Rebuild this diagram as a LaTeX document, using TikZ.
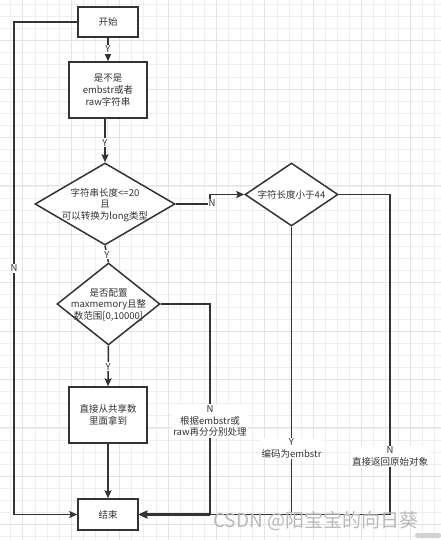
\documentclass[tikz,border=0pt]{standalone}
\usepackage{fontspec}
\setmainfont{Noto Sans CJK SC}
\usetikzlibrary{shapes.geometric,arrows.meta}
\definecolor{ln}{HTML}{333333}
\definecolor{gmin}{HTML}{EFEFEF}
\definecolor{gmaj}{HTML}{E3E3E3}
\begin{document}
\begin{tikzpicture}[x=1pt,y=-1pt,
  every node/.style={font=\fontsize{9.5}{11.8}\selectfont, text=ln},
  box/.style={draw=ln, line width=1.5pt, fill=white, rectangle, inner sep=0pt, align=center},
  dia/.style={draw=ln, line width=1.5pt, fill=white, diamond, inner sep=0pt},
  conn/.style={draw=ln, line width=1.5pt},
  arr/.style={conn, -{Stealth[length=8pt,width=7pt,inset=1.5pt]}},
  lbl/.style={fill=white, inner sep=1pt, align=center},
  gridmin/.style={draw=gmin, line width=0.8pt},
  gridmaj/.style={draw=gmaj, line width=0.9pt}
]
\useasboundingbox (0,0) rectangle (441,540);
\fill[white] (0,0) rectangle (441,540);
% grid
\foreach \i in {0,...,35} \draw[gridmin] ({10.7+12.1*\i},0) -- ({10.7+12.1*\i},540);
\foreach \j in {0,...,44} \draw[gridmin] (0,{4.4+12.1*\j}) -- (441,{4.4+12.1*\j});
\foreach \i in {0,...,8} \draw[gridmaj] ({22.9+48.4*\i},0) -- ({22.9+48.4*\i},540);
\foreach \j in {0,...,10} \draw[gridmaj] (0,{40.7+48.4*\j}) -- (441,{40.7+48.4*\j});

% nodes
\node[box, minimum width=60pt, minimum height=30pt] (start) at (108,22) {开始};
\node[box, minimum width=78pt, minimum height=56pt] (box2) at (108,90) {是不是\\embstr或者\\raw字符串};
\node[dia, minimum width=140pt, minimum height=82pt] (d1) at (105,204) {};
\node[align=center] (t1) at (105,205) {字符串长度<=20\\且\\可以转换为long类型};
\node[dia, minimum width=93pt, minimum height=63pt] (d2) at (291.5,194.5) {};
\node (t2) at (291.5,194.5) {字符长度小于44};
\node[dia, minimum width=103pt, minimum height=82pt] (d3) at (108.5,304) {};
\node[align=center] (t3) at (108.5,305) {是否配置\\maxmemory且整\\数范围[0,10000]};
\node[box, minimum width=78pt, minimum height=56pt] (box3) at (108,415) {直接从共享数\\里面拿到};
\node[box, minimum width=60pt, minimum height=31pt] (end) at (108,514.5) {结束};

% bend points
\coordinate (c0) at (14,22);
\coordinate (c1) at (210,204);
\coordinate (c2) at (390,194.5);
\coordinate (c3) at (210,304);

% connectors
\draw[arr] (start) -- node[lbl]{Y} (box2);
\draw[arr] (box2.south -| d1.north) -- node[lbl, pos=0.55]{Y} (d1.north);
\draw[conn] (d1.south) -- node[lbl, pos=0.55]{Y} (d3.north);
\draw[arr] (d1.east) -- (c1) |- (d2.west);
\node[lbl] (n1) at (212,203) {N};
\draw[arr] (d3.south) -- node[lbl, pos=0.52]{Y} (box3.north);
\draw[arr] (box3.south) -- (end.north);
\draw[arr] (start.west) -- (c0) -- node[lbl, pos=0.5]{N} (c0 |- end.west) -- (end.west);
\draw[arr] (d3.east) -- (c3) -- node[lbl, pos=0.556]{N\\根据embstr或\\raw再分分别处理} (c3 |- end.east) -- (end.east);
\draw[arr] (d2.south) -- node[lbl, pos=0.771]{Y\\编码为embstr} (d2.south |- end.east) -- (end.east);
\draw[arr] (d2.east) -- (c2) -- node[lbl, pos=0.819]{N\\直接返回原始对象} (c2 |- end.east) -- (end.east);
\draw[conn, line width=2.6pt, -{Stealth[length=9pt,width=8pt,inset=1.5pt]}] (c3 |- end.east) -- (end.east);

% watermark
\node[anchor=west, text=gray!55, font=\fontsize{19}{20}\selectfont, inner sep=0pt] (wm) at (213,521) {CSDN @阳宝宝的向日葵};
\fill[gray!35, rounded corners=2pt] (415,533) rectangle (441,538);
\end{tikzpicture}
\end{document}
